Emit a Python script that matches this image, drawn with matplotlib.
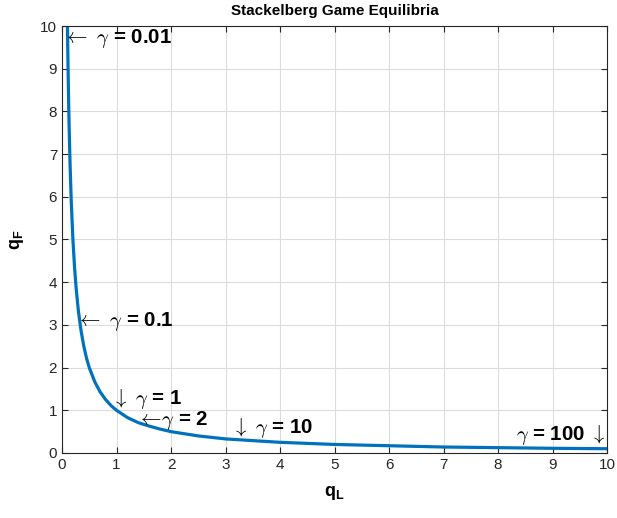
import matplotlib
matplotlib.use("Agg")
import matplotlib.pyplot as plt

# equilibrium curve
q_L = [0.10, 0.11, 0.12, 0.13, 0.14, 0.15, 0.17, 0.20, 0.23, 0.26, 0.30, 0.35,
       0.40, 0.45, 0.50, 0.60, 0.70, 0.80, 0.90, 1.00, 1.20, 1.40, 1.60, 1.80,
       2.00, 2.50, 3.00, 3.50, 4.00, 5.00, 6.00, 7.00, 8.00, 9.00, 10.00]
q_F = [10.0, 9.09, 8.33, 7.69, 7.14, 6.67, 5.88, 5.00, 4.35, 3.85, 3.33, 2.86,
       2.50, 2.22, 2.00, 1.67, 1.43, 1.25, 1.11, 1.00, 0.83, 0.71, 0.63, 0.56,
       0.50, 0.40, 0.33, 0.29, 0.25, 0.20, 0.17, 0.14, 0.125, 0.11, 0.10]

# labelled points
gamma_labels = ["0.01", "0.1", "1", "2", "10", "100"]
gamma_qL = [0.10, 0.316, 1.00, 1.414, 3.162, 10.0]
gamma_qF = [10.0, 3.162, 1.00, 0.707, 0.316, 0.10]

# TeX-style arrows and gamma, sans bold for the axis labels
plt.rcParams["mathtext.fontset"] = "custom"
plt.rcParams["mathtext.rm"] = "cmr10"
plt.rcParams["mathtext.it"] = "cmmi10"
plt.rcParams["mathtext.bf"] = "Liberation Sans:bold"
plt.rcParams["mathtext.fallback"] = "cm"
plt.rcParams["font.family"] = ["Liberation Sans", "DejaVu Sans"]

fig = plt.figure(figsize=(6.17, 5.18), dpi=100)
ax = fig.add_axes([0.1005, 0.1255, 0.8833, 0.8243])

ax.plot(q_L, q_F, color="#0072BD", linewidth=2.3)

ax.set_xlim(0, 10)
ax.set_ylim(0, 10)
ax.set_xticks(range(0, 11))
ax.set_yticks(range(0, 11))
ax.grid(True, color="#dcdcdc", linewidth=0.8)
ax.set_axisbelow(True)
ax.tick_params(direction="in", length=4, colors="#262626", labelsize=11,
               top=True, right=True, labeltop=False, labelright=False)
for s in ax.spines.values():
    s.set_color("#262626")
    s.set_linewidth(0.8)

txt = dict(fontsize=14.8, fontweight="bold", color="black",
           textcoords="offset pixels", zorder=5)
# label text, alignment, pixel offset from the point
styles = {
    "0.01": (r"$\leftarrow\ \gamma$ = 0.01", "left", "center", (-4, -12)),
    "0.1": (r"$\leftarrow\ \gamma$ = 0.1", "left", "center", (-3, -4)),
    "1": (r"$\downarrow\ \gamma$ = 1", "left", "bottom", (-5, -1)),
    "2": (r"$\leftarrow\!\gamma$ = 2", "left", "center", (-2, 2)),
    "10": (r"$\downarrow\ \gamma$ = 10", "left", "bottom", (-2, -1)),
    "100": (r"$\gamma$ = 100 $\downarrow$", "right", "bottom", (-2, 2)),
}
for g, x, y in zip(gamma_labels, gamma_qL, gamma_qF):
    s, ha, va, off = styles[g]
    ax.annotate(s, xy=(x, y), xytext=off, ha=ha, va=va, **txt)

ax.set_title("Stackelberg Game Equilibria", fontsize=11, fontweight="bold", pad=8)
ax.set_xlabel(r"$\mathbf{q}_\mathbf{L}$", fontsize=13, labelpad=9)
ax.set_ylabel(r"$\mathbf{q}_\mathbf{F}$", fontsize=13, labelpad=10)

fig.savefig("out.png", dpi=100)
